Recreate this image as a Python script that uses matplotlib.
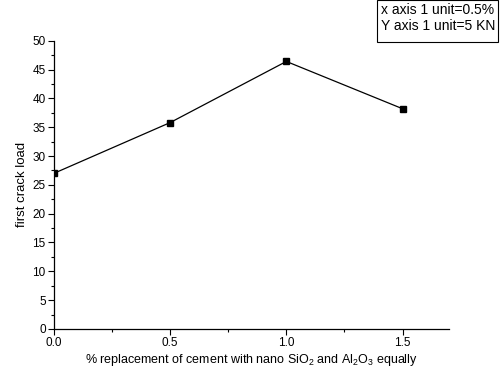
import matplotlib
matplotlib.use("Agg")
import matplotlib.pyplot as plt
from matplotlib.ticker import MultipleLocator
from matplotlib.patches import Rectangle

plt.rcParams['font.family'] = ['Liberation Sans', 'DejaVu Sans']
plt.rcParams['mathtext.fontset'] = 'custom'
plt.rcParams['mathtext.rm'] = 'Liberation Sans'
plt.rcParams['mathtext.it'] = 'Liberation Sans:italic'

x_vals = [0.0, 0.5, 1.0, 1.5]
load = [27.0, 35.8, 46.4, 38.2]
x_ticks = [0.0, 0.5, 1.0, 1.5]
y_ticks = [0, 5, 10, 15, 20, 25, 30, 35, 40, 45, 50]

fig = plt.figure(figsize=(5, 3.75), dpi=100)
ax = fig.add_axes([0.108, 0.1227, 0.79, 0.7688])
ax.plot(x_vals, load, color='black', lw=0.9, marker='s', ms=4.5, mfc='black', mec='black')
ax.set_xlim(0, 1.7)
ax.set_ylim(0, 50)
ax.set_xticks(x_ticks)
ax.set_xticklabels(['0.0', '0.5', '1.0', '1.5'])
ax.set_yticks(y_ticks)
ax.xaxis.set_minor_locator(MultipleLocator(0.25))
ax.yaxis.set_minor_locator(MultipleLocator(2.5))
for s in ['top', 'right']:
    ax.spines[s].set_visible(False)
for s in ['left', 'bottom']:
    ax.spines[s].set_linewidth(0.9)
ax.tick_params(which='major', direction='out', length=4, width=0.8, labelsize=8.5, pad=2)
ax.tick_params(which='minor', direction='out', length=2.5, width=0.8)
ax.set_ylabel('first crack load', fontsize=9.5, labelpad=3)
ax.set_xlabel('% replacement of cement with nano SiO$_2$ and Al$_2$O$_3$ equally', fontsize=9, labelpad=2)

# annotation box at top right
fig.patches.append(Rectangle((377 / 500, 1 - 42 / 375), 121 / 500, 41.5 / 375,
                             transform=fig.transFigure, fc='white', ec='black', lw=0.8))
fig.text(381 / 500, 1 - 3 / 375, 'x axis 1 unit=0.5%\nY axis 1 unit=5 KN', fontsize=10, va='top', ha='left',
         linespacing=1.2)

fig.savefig('out.png', dpi=100)
